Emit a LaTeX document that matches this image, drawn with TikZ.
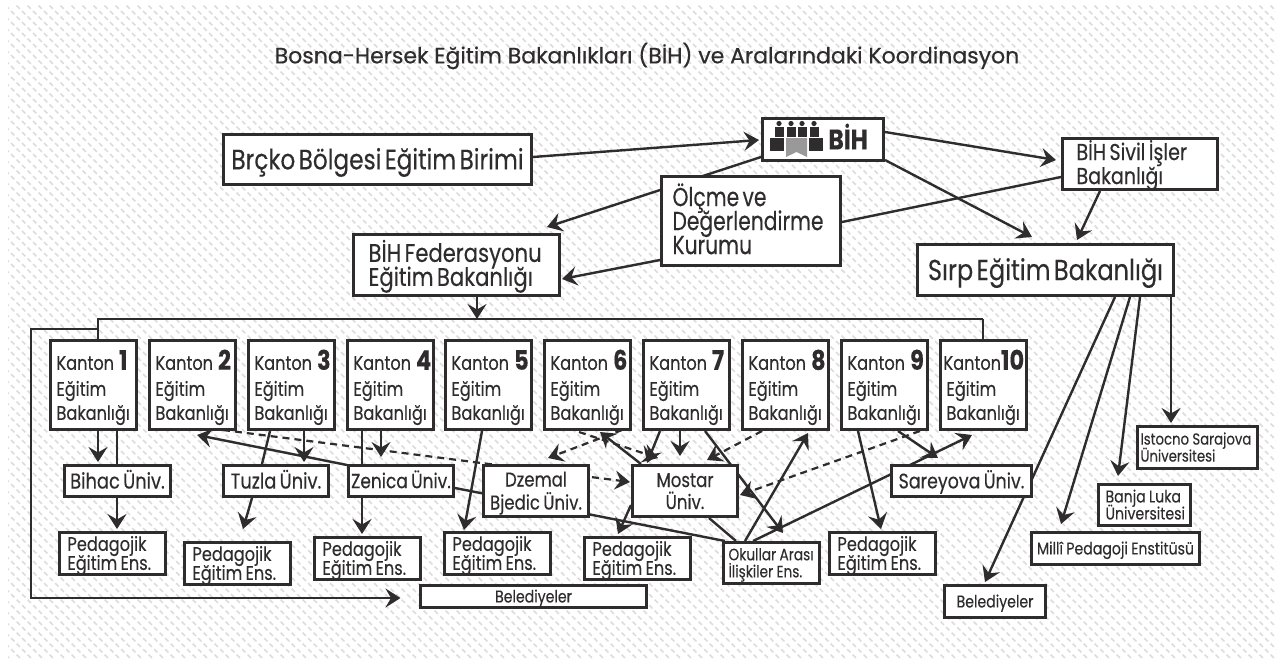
\documentclass[tikz,border=0pt]{standalone}
\usepackage{fontspec}
\setmainfont[FakeStretch=0.83,FakeBold=0.25,WordSpace=1.8]{Poppins}
\newfontfamily\titlefont[FakeStretch=1.0,FakeBold=0.5]{Poppins}
\newfontfamily\nf[FakeStretch=0.78,FakeBold=0.25,WordSpace=1.5]{Poppins}
\usetikzlibrary{arrows.meta}
\definecolor{ink}{HTML}{2E2C2D}
\definecolor{hatch}{HTML}{DCDCDC}
\pgfdeclarelayer{hatchlayer}
\pgfdeclarelayer{edges}
\pgfsetlayers{hatchlayer,edges,main}
% size, leading: the first line is given the height of a capital, so that the block sits centred
\newcommand\fs[2]{\fontsize{#1}{#2}\selectfont\leavevmode\rule{0pt}{\dimexpr#1pt*7/10\relax}}
\newcommand\sm[1]{\smash{#1}}
\tikzset{
  boxed/.style={draw=ink,line width=3pt,fill=white,text=ink,inner ysep=0pt,outer sep=0pt},
  arr/.style={draw=ink,line width=2.4pt,-{Stealth[length=15pt,width=19pt,inset=5.5pt]}},
  plain/.style={draw=ink,line width=2.4pt},
  dashy/.style={draw=ink,line width=2.2pt,dash pattern=on 7pt off 5pt,-{Stealth[length=15pt,width=19pt,inset=5.5pt]}},
  bracket/.style={draw=ink,line width=2pt},
}
% \bx{name}{x0}{y0}{x1}{y1}{pad}{align}{font+text}
\newcommand\bx[8]{%
  \pgfmathsetmacro\mycx{(#2+#4)/2}\pgfmathsetmacro\mycy{(#3+#5)/2}%
  \pgfmathsetmacro\myw{#4-#2-3}\pgfmathsetmacro\myh{#5-#3-3}%
  \pgfmathsetmacro\mytw{#4-#2-3-2*#6}%
  \expandafter\xdef\csname cx@#1\endcsname{\mycx}%
  \expandafter\xdef\csname cy@#1\endcsname{\mycy}%
  \node[boxed,minimum width=\myw pt,minimum height=\myh pt,inner xsep=#6pt,text width=\mytw pt,align=#7] (#1) at (\mycx,\mycy) {#8\par};}
\newcommand\kant[3]{\bx{k#1}{#2}{339}{#2+89}{431}{6}{left}{\fs{19.5}{24}\rule{0pt}{19.6pt}\sm{\mbox{#3Kanton\ifnum#1<10\hspace{5pt}\fi{\fontsize{27}{24}\selectfont\bfseries #1}}}\\[2pt]\sm{Eğitim}\\\sm{Bakanlığı}}}
\newcommand\ped[3]{\bx{#1}{#2}{#3}{#2+109}{#3+45}{8}{left}{\fs{19.5}{19}\sm{Pedagojik}\\\sm{Eğitim Ens.}}}
% \cn[style]{a}{x}{y}{b}{x}{y}
\newcommand\cn[7][arr]{\draw[#1] ([shift={(#3-\csname cx@#2\endcsname,#4-\csname cy@#2\endcsname)}]#2.center) -- ([shift={(#6-\csname cx@#5\endcsname,#7-\csname cy@#5\endcsname)}]#5.center);}
\begin{document}
\begin{tikzpicture}[x=1pt,y=-1pt]
\useasboundingbox (0,0) rectangle (1276,659);
\begin{pgfonlayer}{hatchlayer}
\fill[white] (0,0) rectangle (1276,659);
\begin{scope}
\clip (8,5) rectangle (1276,659);
\foreach \i in {-60,...,116}
  \draw[hatch,line width=1.5pt,dash pattern=on 4.6pt off 3.18pt] (\i*11,0) -- ++(665,665);
\end{scope}
\end{pgfonlayer}

\node[text=ink,font=\titlefont\fontsize{22}{24}\selectfont] (title) at (647,56) {Bosna-Hersek Eğitim Bakanlıkları (BİH) ve Aralarındaki Koordinasyon};

\bx{brcko}{222}{133}{533}{186}{0}{center}{\fs{28}{30}\sm{Brçko Bölgesi Eğitim Birimi}}
\bx{bih}{761}{117}{885}{162}{66}{left}{\fs{28}{28}\bfseries\sm{BİH}}
\bx{sivil}{1061}{137}{1219}{191}{14}{left}{\fs{23}{24}\sm{BİH Sivil İşler}\\\sm{Bakanlığı}}
\bx{olcme}{660}{175}{842}{267}{11}{left}{\nf\fs{26}{24}\sm{Ölçme ve}\\\sm{Değerlendirme}\\\sm{Kurumu}}
\bx{fed}{352}{233}{561}{297}{15}{left}{\fs{25.5}{24}\sm{BİH Federasyonu}\\\sm{Eğitim Bakanlığı}}
\bx{sirp}{916}{243}{1175}{297}{0}{center}{\fs{29}{30}\sm{Sırp Eğitim Bakanlığı}}

\kant{1}{49}{}
\kant{2}{148}{}
\kant{3}{247}{}
\kant{4}{346}{}
\kant{5}{444}{}
\kant{6}{543}{}
\kant{7}{642}{}
\kant{8}{741}{}
\kant{9}{840}{}
\kant{10}{939}{\hspace*{-3pt}}

\bx{bihac}{63}{464}{172}{498}{0}{center}{\fs{21.5}{22}\sm{Bihac Üniv.}}
\bx{tuzla}{222}{464}{330}{498}{0}{center}{\fs{21.5}{22}\sm{Tuzla Üniv.}}
\bx{zenica}{347}{464}{455}{498}{0}{center}{\fs{20.5}{22}\sm{Zenica Üniv.}}
\bx{dzemal}{482}{464}{590}{518}{0}{center}{\fs{20}{23}\sm{Dzemal}\\\sm{Bjedic Üniv.}}
\bx{mostar}{631}{464}{739}{518}{0}{center}{\fs{20}{22}\sm{Mostar}\\\sm{Üniv.}}
\bx{sareyova}{890}{464}{1033}{498}{0}{center}{\fs{21}{22}\sm{Sareyova Üniv.}}
\ped{p1}{58}{531}
\ped{p2}{183}{541}
\ped{p3}{313}{536}
\ped{p5}{443}{531}
\ped{p7}{583}{536}
\ped{p9}{828}{531}
\bx{okul}{722}{541}{821}{585}{5}{left}{\fs{16.5}{17}\sm{Okullar Arası}\\\sm{İlişkiler Ens.}}
\bx{bel}{419}{584}{648}{609}{0}{center}{\fs{17}{18}\sm{Belediyeler}}
\bx{belb}{943}{584}{1047}{619}{0}{center}{\fs{17}{18}\sm{Belediyeler}}
\bx{milli}{1030}{531}{1201}{566}{0}{center}{\fs{17}{18}\sm{Millî Pedagoji Enstitüsü}}
\bx{banja}{1097}{483}{1192}{527}{7}{left}{\fs{17}{17}\sm{Banja Luka}\\\sm{Üniversitesi}}
\bx{istocno}{1136}{425}{1259}{470}{3}{left}{\fs{16}{17}\sm{Istocno Sarajova}\\\sm{Üniversitesi}}

% logo
\foreach \px in {779,791,802,814}{
  \fill[ink] (\px,123.5) circle (2.6);
  \fill[ink] (\px-4.5,127) rectangle (\px+4.5,136.5);
}
\fill[ink] (770,138) rectangle (784,151);
\fill[ink] (809,138) rectangle (823,151);
\fill[black!40] (786,138) -- (807,138) -- (807,157) -- (796.5,152) -- (786,157) -- cycle;

\begin{pgfonlayer}{edges}
\coordinate (brtop) at (98,319);
\coordinate (brtopr) at (983,319);
\coordinate (brstep) at (98,329);
\coordinate (brleft) at (31,329);
\coordinate (brlow) at (31,598);
\coordinate (brmid) at (477,319);
\draw[bracket] (brtopr) -- (k10.north -| brtopr);
\draw[bracket] (k1.north -| brtop) -- (brtop) -- (brtopr);
\draw[draw=ink,line width=2pt,-{Stealth[length=15pt,width=19pt,inset=5.5pt]}] (brstep) -- (brleft) -- (brlow) -- ([xshift=-20pt]bel.west |- brlow);
\draw[arr] (fed.south -| brmid) -- (brmid);

\cn{brcko}{533}{157}{bih}{759}{140}
\cn{bih}{761}{157}{fed}{547}{227}
\cn{olcme}{660}{260}{fed}{562}{279}
\cn{bih}{885}{132}{sivil}{1056}{160}
\cn{bih}{885}{160}{sirp}{1032}{237}
\cn[plain]{sivil}{1061}{177}{olcme}{842}{222}
\cn{sivil}{1100}{191}{sirp}{1077}{240}
\cn{sirp}{1115}{297}{belb}{985}{582}
\cn{sirp}{1130}{297}{milli}{1061}{524}
\cn{sirp}{1140}{297}{banja}{1118}{476}
\cn{sirp}{1171}{297}{istocno}{1171}{423}

\cn{k1}{98}{431}{bihac}{98}{462}
\cn[plain]{k1}{117}{431}{bihac}{117}{464}
\cn{bihac}{117}{498}{p1}{117}{529}
\cn{zenica}{347}{465}{k2}{197}{435}
\cn[dashy]{k2}{223}{430}{mostar}{630}{482}
\cn[plain]{k3}{270}{431}{tuzla}{262}{464}
\cn{k3}{304}{431}{tuzla}{304}{462}
\cn{tuzla}{252}{498}{p2}{243}{529}
\cn[plain]{k4}{362}{431}{zenica}{362}{464}
\cn{k4}{381}{431}{zenica}{381}{457}
\cn{zenica}{362}{498}{p3}{362}{534}
\cn[plain]{zenica}{455}{488}{okul}{725}{541}
\cn{k5}{482}{431}{p5}{464}{530}
\cn[dashy]{k6}{622}{430}{dzemal}{548}{458}
\cn[dashy]{k6}{579}{432}{mostar}{658}{458}
\cn{mostar}{641}{464}{k6}{600}{432}
\cn{k7}{660}{431}{mostar}{647}{463}
\cn{k7}{680}{431}{mostar}{680}{456}
\cn{k7}{705}{431}{okul}{783}{533}
\cn[dashy]{k8}{762}{431}{mostar}{707}{460}
\cn{okul}{745}{541}{k8}{808}{433}
\cn[plain]{mostar}{709}{518}{okul}{736}{541}
\cn{mostar}{631}{505}{p7}{618}{534}
\cn[dashy]{k9}{920}{431}{mostar}{740}{495}
\cn{k9}{858}{431}{p9}{881}{529}
\cn{k9}{898}{431}{sareyova}{938}{458}
\cn{okul}{753}{541}{k10}{972}{435}
\end{pgfonlayer}
\end{tikzpicture}
\end{document}
